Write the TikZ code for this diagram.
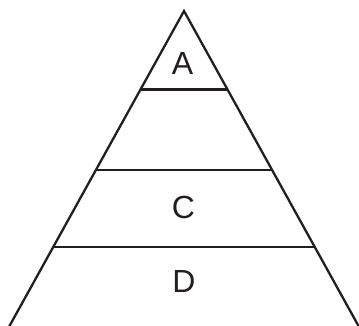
\documentclass[tikz,border=0pt]{standalone}
\usepackage{fontspec}
\setmainfont{Liberation Sans}
\definecolor{ink}{HTML}{231F20}
\begin{document}
\begin{tikzpicture}[x=1pt,y=-1pt,
  edge/.style={draw=ink,line width=2.3pt,line join=miter},
  lab/.style={text=ink,font=\fontsize{32}{32}\selectfont,inner sep=0pt}]
\useasboundingbox (0,0) rectangle (359,325);
\coordinate (apex) at (184,11);
\coordinate (bl) at (7.8,329);
\coordinate (br) at (360.2,329);
\draw[edge] (bl) -- (apex) -- (br);
\coordinate (l1) at (140.2,89.5);
\coordinate (r1) at (227.8,89.5);
\coordinate (l2) at (96.1,169.7);
\coordinate (r2) at (271.9,169.7);
\coordinate (l3) at (53.0,247.3);
\coordinate (r3) at (315.0,247.3);
\draw[edge] (l1) -- (r1);
\draw[edge] (l2) -- (r2);
\draw[edge] (l3) -- (r3);
\node[lab] (A) at (182.5,63.5) {A};
\node[lab] (C) at (183.5,207) {C};
\node[lab] (D) at (184,281) {D};
\end{tikzpicture}
\end{document}
